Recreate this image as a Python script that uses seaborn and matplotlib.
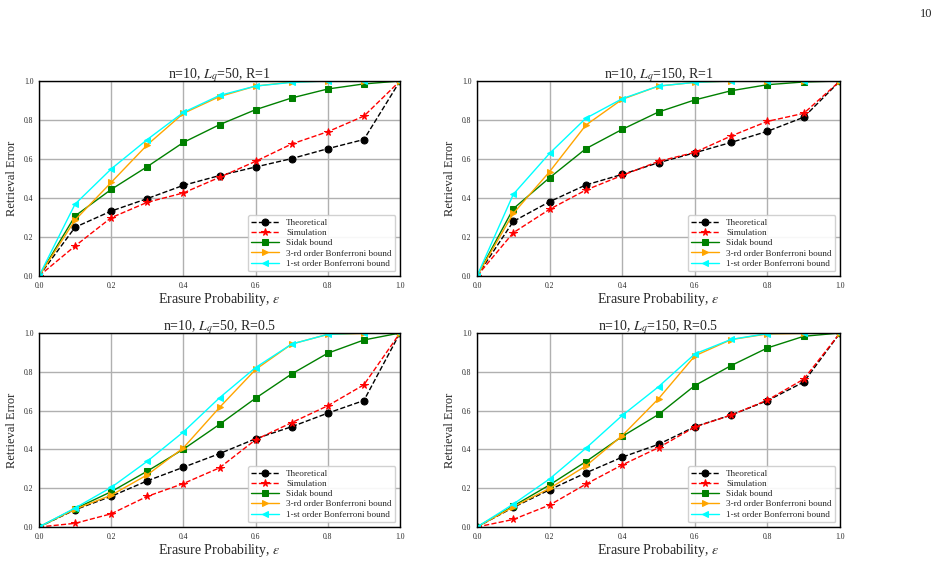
import numpy as np
import pandas as pd
import matplotlib
matplotlib.use("Agg")
import matplotlib.pyplot as plt
import seaborn as sns

eps = [0.0, 0.1, 0.2, 0.3, 0.4, 0.5, 0.6, 0.7, 0.8, 0.9, 1.0]

# n=10, Lq=50, R=1
theo_50_r1 = [0.0, 0.25, 0.333, 0.397, 0.465, 0.515, 0.559, 0.602, 0.653, 0.70, 1.0]
sim_50_r1 = [0.0, 0.154, 0.299, 0.378, 0.426, 0.506, 0.588, 0.677, 0.74, 0.82, 1.0]
sidak_50_r1 = [0.0, 0.308, 0.444, 0.561, 0.685, 0.776, 0.853, 0.913, 0.959, 0.985, 1.0]
bonf3_50_r1 = [0.0, 0.287, 0.48, 0.673, 0.834, 0.92, 0.974, 0.995, 1.0, 1.0, 1.0]
bonf1_50_r1 = [0.0, 0.369, 0.549, 0.70, 0.839, 0.926, 0.974, 0.993, 1.0, 1.0, 1.0]

# n=10, Lq=150, R=1
theo_150_r1 = [0.0, 0.28, 0.381, 0.467, 0.521, 0.581, 0.632, 0.685, 0.742, 0.814, 1.0]
sim_150_r1 = [0.0, 0.222, 0.342, 0.441, 0.516, 0.588, 0.634, 0.718, 0.793, 0.834, 1.0]
sidak_150_r1 = [0.0, 0.345, 0.504, 0.653, 0.752, 0.841, 0.903, 0.95, 0.981, 0.995, 1.0]
bonf3_150_r1 = [0.0, 0.321, 0.535, 0.774, 0.906, 0.974, 0.993, 1.0, 1.0, 1.0, 1.0]
bonf1_150_r1 = [0.0, 0.419, 0.629, 0.809, 0.909, 0.974, 0.993, 1.0, 1.0, 1.0, 1.0]

# n=10, Lq=50, R=0.5
theo_50_r05 = [0.0, 0.089, 0.158, 0.238, 0.308, 0.378, 0.455, 0.517, 0.587, 0.652, 1.0]
sim_50_r05 = [0.0, 0.019, 0.068, 0.158, 0.224, 0.305, 0.45, 0.538, 0.625, 0.733, 1.0]
sidak_50_r05 = [0.0, 0.094, 0.182, 0.288, 0.401, 0.529, 0.664, 0.789, 0.896, 0.964, 1.0]
bonf3_50_r05 = [0.0, 0.092, 0.164, 0.269, 0.408, 0.616, 0.812, 0.943, 0.993, 0.998, 1.0]
bonf1_50_r05 = [0.0, 0.098, 0.204, 0.339, 0.49, 0.666, 0.822, 0.943, 0.993, 1.0, 1.0]

# n=10, Lq=150, R=0.5
theo_150_r05 = [0.0, 0.101, 0.192, 0.279, 0.36, 0.426, 0.517, 0.577, 0.651, 0.747, 1.0]
sim_150_r05 = [0.0, 0.039, 0.113, 0.221, 0.32, 0.409, 0.515, 0.577, 0.654, 0.762, 1.0]
sidak_150_r05 = [0.0, 0.108, 0.217, 0.337, 0.467, 0.58, 0.729, 0.832, 0.923, 0.983, 1.0]
bonf3_150_r05 = [0.0, 0.104, 0.199, 0.315, 0.471, 0.661, 0.882, 0.966, 0.995, 0.998, 1.0]
bonf1_150_r05 = [0.0, 0.118, 0.248, 0.406, 0.575, 0.723, 0.892, 0.967, 0.997, 1.0, 1.0]

labels = ["Theoretical", "Simulation", "Sidak bound",
          "3-rd order Bonferroni bound", "1-st order Bonferroni bound"]
titles = ["n=10, $L_q$=50, R=1", "n=10, $L_q$=150, R=1",
          "n=10, $L_q$=50, R=0.5", "n=10, $L_q$=150, R=0.5"]

panels = [
    [theo_50_r1, sim_50_r1, sidak_50_r1, bonf3_50_r1, bonf1_50_r1],
    [theo_150_r1, sim_150_r1, sidak_150_r1, bonf3_150_r1, bonf1_150_r1],
    [theo_50_r05, sim_50_r05, sidak_50_r05, bonf3_50_r05, bonf1_50_r05],
    [theo_150_r05, sim_150_r05, sidak_150_r05, bonf3_150_r05, bonf1_150_r05],
]

colors = ["black", "red", "green", "orange", "cyan"]
styles = ["--", "--", "-", "-", "-"]
markers = ["o", "*", "s", ">", "<"]

sns.set_style("white")
plt.rcParams["font.family"] = ["Liberation Serif", "DejaVu Serif"]
plt.rcParams["mathtext.fontset"] = "stix"

fig = plt.figure(figsize=(9.46, 5.78), dpi=100)

# axes boxes in pixels: left, top, right, bottom
boxes = [(39, 81, 400, 276), (477, 81, 840, 276),
         (39, 333, 400, 527), (477, 333, 840, 527)]

ticks = [0.0, 0.2, 0.4, 0.6, 0.8, 1.0]

for k, (box, series) in enumerate(zip(boxes, panels)):
    l, t, r, b = box
    ax = fig.add_axes([l / 946, 1 - b / 578, (r - l) / 946, (b - t) / 578])
    for i in range(5):
        df = pd.DataFrame({"eps": eps, "val": series[i]})
        sns.lineplot(data=df, x="eps", y="val", ax=ax, color=colors[i],
                     linestyle=styles[i], marker=markers[i],
                     markersize=5 if markers[i] != "*" else 5.5,
                     markeredgecolor=colors[i], linewidth=1.0,
                     label=labels[i])
    ax.set_xlim(0, 1)
    ax.set_ylim(0, 1)
    ax.set_xticks(ticks)
    ax.set_yticks(ticks)
    ax.set_xticklabels([f"{v:.1f}" for v in ticks])
    ax.set_yticklabels([f"{v:.1f}" for v in ticks])
    ax.tick_params(labelsize=5.5, length=2, width=0.6, direction="out", pad=2)
    ax.grid(True, color="#b0b0b0", linewidth=1.0)
    for s in ax.spines.values():
        s.set_color("black")
        s.set_linewidth(1.0)
    ax.set_title(titles[k], fontsize=10, pad=2)
    ax.set_xlabel("Erasure Probability, $\\epsilon$", fontsize=10, labelpad=1)
    ax.set_ylabel("Retrieval Error", fontsize=9, labelpad=4)
    ax.legend(loc="lower right", fontsize=6.6, framealpha=0.9,
              edgecolor="#cccccc", handlelength=3.0, borderpad=0.4,
              labelspacing=0.2, handletextpad=0.8, fancybox=True)

fig.text(926 / 946, 1 - 14 / 578, "10", fontsize=9, ha="center", va="center")

fig.savefig("out.png", dpi=100, facecolor="white")
